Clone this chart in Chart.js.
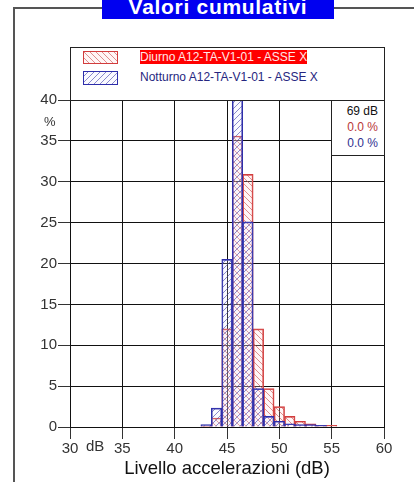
<!DOCTYPE html>
<html>
<head>
<meta charset="utf-8">
<script src="https://cdn.jsdelivr.net/npm/chart.js@4/dist/chart.umd.min.js"></script>
<style>
  html, body { margin: 0; padding: 0; background: #fff; }
  #wrap { position: relative; width: 414px; height: 482px; overflow: hidden; font-family: "Liberation Sans", Arial, sans-serif; }
  #c { position: absolute; left: 0; top: 0; }
  .abs { position: absolute; }
  #frameL { left: 13px; top: 7px; width: 2px; height: 480px; background: #555; }
  #frameT1 { left: 13px; top: 7px; width: 90px; height: 2px; background: #555; }
  #frameT2 { left: 333px; top: 7px; width: 90px; height: 2px; background: #555; }
  #title { left: 102px; top: -5px; width: 232px; height: 24px; background: #0000f0; color: #fff; font-weight: bold; font-size: 21px; line-height: 24px; text-align: center; letter-spacing: 0.7px; }
  #legend { left: 70px; top: 47px; width: 313px; height: 52px; border: 1px solid #222; background: #fff; }
  .sw { position: absolute; left: 12px; width: 35px; height: 13px; }
  .lt { position: absolute; left: 69px; font-size: 12px; line-height: 14px; white-space: nowrap; }
  #info { left: 331px; top: 100px; width: 52px; height: 54px; border: 1px solid #222; background: #fff; font-size: 12px; text-align: right; }
  #info div { position: absolute; right: 6px; line-height: 14px; white-space: nowrap; }
  #pct { left: 44px; top: 114px; font-size: 13px; color: #333; }
  #db { left: 86px; top: 437px; font-size: 15px; color: #333; }
</style>
</head>
<body>
<div id="wrap">
  <canvas id="c" width="414" height="482"></canvas>
  <div class="abs" id="frameL"></div>
  <div class="abs" id="frameT1"></div>
  <div class="abs" id="frameT2"></div>
  <div class="abs" id="title">Valori cumulativi</div>
  <div class="abs" id="legend">
    <canvas class="sw" id="sw1" width="35" height="13" style="top:3px"></canvas>
    <span class="lt" id="lt1" style="top:2px;background:#f00;color:#ffe8e8;">Diurno A12-TA-V1-01 - ASSE X</span>
    <canvas class="sw" id="sw2" width="35" height="14" style="top:23px;height:14px"></canvas>
    <span class="lt" id="lt2" style="top:22px;color:#262680;">Notturno A12-TA-V1-01 - ASSE X</span>
  </div>
  <div class="abs" id="info">
    <div id="i1" style="top:3px;color:#111;">69 dB</div>
    <div id="i2" style="top:19px;color:#b83838;">0.0 %</div>
    <div id="i3" style="top:35px;color:#30308f;">0.0 %</div>
  </div>
  <div class="abs" id="pct">%</div>
  <div class="abs" id="db">dB</div>
</div>
<script>
// ---- data ----
const levels = [43, 44, 45, 46, 47, 48, 49, 50, 51, 52, 53, 54, 55];
const diurno = [0.1, 1.1, 12.0, 35.6, 30.9, 12.0, 4.7, 2.5, 1.3, 0.7, 0.4, 0.2, 0.2];
const notturno = [0.3, 2.3, 20.5, 44.0, 25.1, 4.7, 1.3, 0.7, 0.4, 0.3, 0.3, 0.2, 0.0];
const xTicks = [30, 35, 40, 45, 50, 55, 60];
const yTicks = [0, 5, 10, 15, 20, 25, 30, 35, 40];
const labelDiurno = 'Diurno A12-TA-V1-01 - ASSE X';
const labelNotturno = 'Notturno A12-TA-V1-01 - ASSE X';
const xTitle = 'Livello accelerazioni (dB)';

const RED = 'rgb(210,60,60)';
const BLUE = 'rgb(45,45,170)';
const RED_H = 'rgba(200,70,70,0.75)';
const BLUE_H = 'rgba(60,60,170,0.75)';

function hatch(color, back) {
  const t = document.createElement('canvas');
  t.width = 6; t.height = 6;
  const g = t.getContext('2d');
  g.fillStyle = back ? 'rgba(255,215,215,0.22)' : 'rgba(225,225,255,0.18)';
  g.fillRect(0, 0, 6, 6);
  g.strokeStyle = color;
  g.lineWidth = 0.8;
  g.beginPath();
  if (back) { g.moveTo(-1, -1); g.lineTo(7, 7); }
  else { g.moveTo(-1, 7); g.lineTo(7, -1); }
  g.stroke();
  return g.createPattern(t, 'repeat');
}
const patRed = hatch(RED_H, true);
const patBlue = hatch(BLUE_H, false);

function swatch(id, pat, color) {
  const cv = document.getElementById(id);
  const g = cv.getContext('2d');
  g.fillStyle = pat; g.fillRect(0, 0, cv.width, cv.height);
  g.strokeStyle = color; g.lineWidth = 1;
  g.strokeRect(0.5, 0.5, cv.width - 1, cv.height - 1);
}
swatch('sw1', patRed, RED);
swatch('sw2', patBlue, BLUE);

const tickFont = { family: '"Liberation Sans", Arial, sans-serif', size: 15 };

new Chart(document.getElementById('c'), {
  type: 'bar',
  data: {
    datasets: [
      {
        label: labelNotturno,
        data: levels.map((x, i) => ({ x: x, y: notturno[i] })),
        backgroundColor: patBlue,
        borderColor: BLUE,
        borderWidth: 1,
        clip: 0
      },
      {
        label: labelDiurno,
        data: levels.map((x, i) => ({ x: x, y: diurno[i] })),
        backgroundColor: patRed,
        borderColor: RED,
        borderWidth: 1,
        clip: 0
      }
    ]
  },
  options: {
    responsive: false,
    animation: false,
    devicePixelRatio: 1,
    grouped: false,
    barPercentage: 1,
    categoryPercentage: 1,
    layout: { padding: { left: 0, right: 30, top: 100, bottom: 0 } },
    plugins: { legend: { display: false }, title: { display: false }, tooltip: { enabled: false } },
    scales: {
      x: {
        type: 'linear',
        offset: false,
        min: 30, max: 60,
        afterBuildTicks: s => { s.ticks = xTicks.map(v => ({ value: v })); },
        afterFit: s => { s.height = 55; },
        grid: { offset: false, color: '#111', lineWidth: 1, tickLength: 12, tickColor: '#333' },
        border: { color: '#111' },
        ticks: { color: '#333', font: tickFont, padding: 1, maxRotation: 0, autoSkip: false },
        title: { display: true, text: xTitle, color: '#111', font: { family: '"Liberation Sans", Arial, sans-serif', size: 18.5 }, padding: { top: 0, bottom: 2 } }
      },
      y: {
        min: 0, max: 40,
        afterBuildTicks: s => { s.ticks = yTicks.map(v => ({ value: v })); },
        afterFit: s => { s.width = 70; },
        grid: { color: '#111', lineWidth: 1, tickLength: 12, tickColor: '#333' },
        border: { color: '#111' },
        ticks: { color: '#333', font: tickFont, padding: 1 }
      }
    }
  }
});
</script>
</body>
</html>
